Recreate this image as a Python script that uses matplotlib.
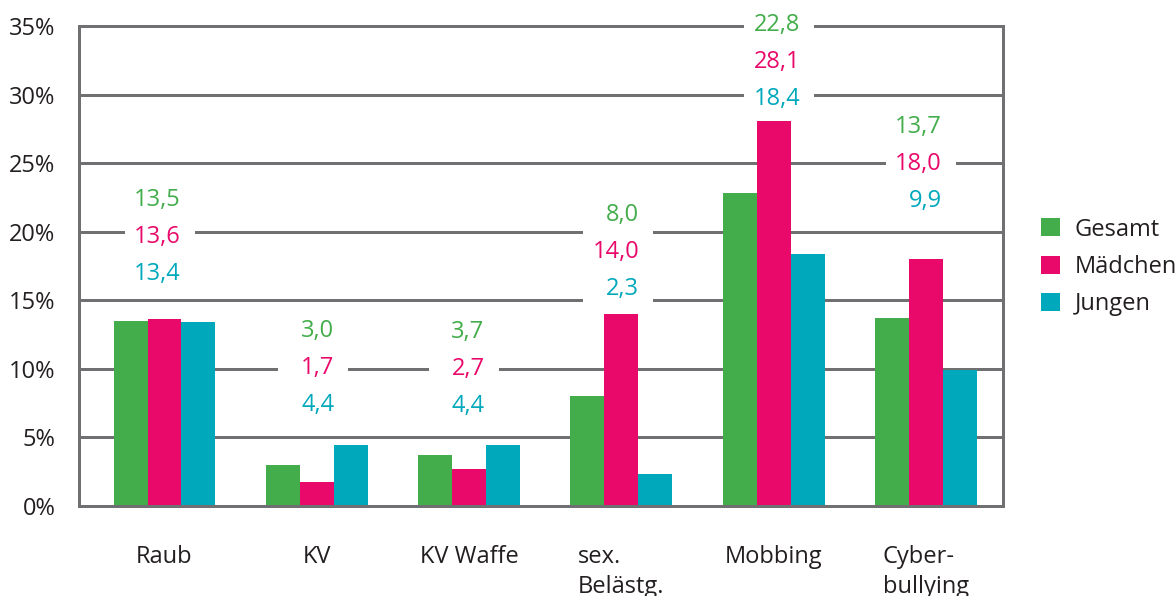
import matplotlib
matplotlib.use("Agg")
import matplotlib.pyplot as plt
from matplotlib.patches import Rectangle, Patch
import numpy as np

plt.rcParams['font.family'] = ['Open Sans', 'DejaVu Sans']

# ---- data ----
categories = ["Raub", "KV", "KV Waffe", "sex.\nBelästg.", "Mobbing", "Cyber-\nbullying"]
series_names = ["Gesamt", "Mädchen", "Jungen"]
gesamt = [13.5, 3.0, 3.7, 8.0, 22.8, 13.7]
maedchen = [13.6, 1.7, 2.7, 14.0, 28.1, 18.0]
jungen = [13.4, 4.4, 4.4, 2.3, 18.4, 9.9]
y_ticks = [0, 5, 10, 15, 20, 25, 30, 35]
y_tick_labels = ["0%", "5%", "10%", "15%", "20%", "25%", "30%", "35%"]

# ---- layout / style ----
colors = ["#42AD4A", "#E8096B", "#00A8BC"]
grid_color = "#707073"
lw = 2.16
fs = 17
bar_w = 0.223
label_mid_y = [19.82, 10.24, 10.19, 18.73, 32.6, 25.17]
label_dx = [0.108, 0.115, 0.102, 0.118, 0.174, 0.105]
label_step = 2.70

fig = plt.figure(figsize=(11.76, 5.96), dpi=100)
ax = fig.add_axes([0.06718, 0.15151, 0.78571, 0.81175])

x = np.arange(len(categories))
series = [gesamt, maedchen, jungen]
handles = []
for i, (vals, c, name) in enumerate(zip(series, colors, series_names)):
    b = ax.bar(x + (i - 1) * bar_w, vals, width=bar_w, color=c, zorder=3,
               label=name, linewidth=0)
    handles.append(b)

ax.set_xlim(-0.5614, 5.5056)
ax.set_ylim(0, 35.3)
ax.set_yticks(y_ticks)
ax.set_yticklabels(y_tick_labels, fontsize=fs, color="#231F20")
ax.set_xticks(x)
ax.set_xticklabels(categories, fontsize=fs, color="#231F20")
for lab in ax.get_xticklabels():
    lab.set_multialignment('left')
    lab.set_linespacing(1.35)
ax.tick_params(axis='y', length=0, pad=17)
ax.tick_params(axis='x', length=0, pad=28)

ax.yaxis.grid(True, color=grid_color, linewidth=lw, zorder=1)
ax.set_axisbelow(True)
for s in ['left', 'right', 'bottom']:
    ax.spines[s].set_color(grid_color)
    ax.spines[s].set_linewidth(lw)
    ax.spines[s].set_zorder(4)
ax.spines['top'].set_visible(False)
ax.spines['left'].set_bounds(0, 35)
ax.spines['right'].set_bounds(0, 35)

# value labels with white masking box
for j in range(len(categories)):
    xr = x[j] + label_dx[j]
    mid = label_mid_y[j]
    ax.add_patch(Rectangle((xr - 0.368, mid - 4.2), 0.46, 8.4, facecolor='white',
                           edgecolor='none', zorder=2, clip_on=False))
    for i, (vals, c) in enumerate(zip(series, colors)):
        yy = mid + (1 - i) * label_step
        ax.text(xr, yy, f"{vals[j]:.1f}".replace('.', ','), color=c, fontsize=fs,
                ha='right', va='center_baseline', zorder=5, clip_on=False)

leg_handles = [Patch(facecolor=c, edgecolor='none') for c in colors]
fig.legend(leg_handles, series_names, loc='center left', bbox_to_anchor=(0.885, 0.552),
           frameon=False, fontsize=fs, handlelength=0.805, handleheight=0.805,
           handletextpad=0.64, labelspacing=0.57, borderpad=0, borderaxespad=0,
           labelcolor="#231F20")

fig.savefig("out.png", dpi=100)
